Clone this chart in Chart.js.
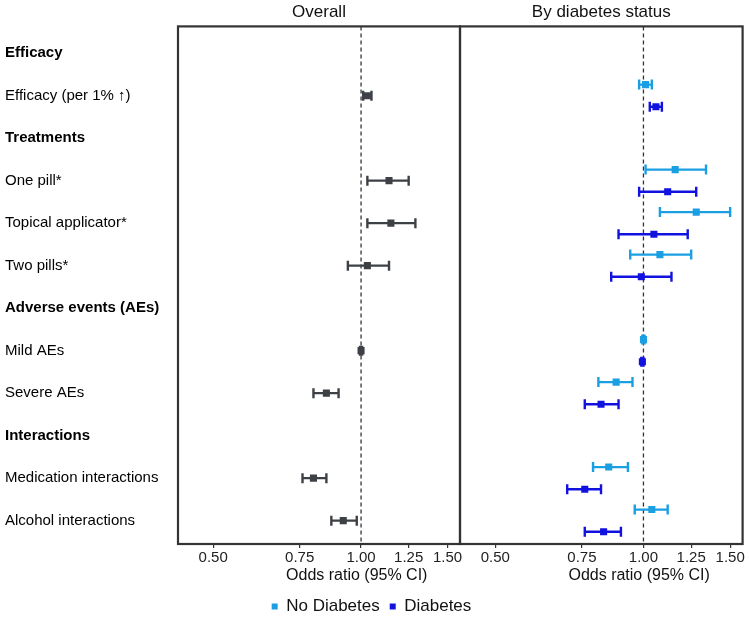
<!DOCTYPE html>
<html>
<head>
<meta charset="utf-8">
<script src="https://cdn.jsdelivr.net/npm/chart.js@4.4.1/dist/chart.umd.min.js"></script>
<style>
  html, body { margin: 0; padding: 0; background: #fff; }
  #wrap { position: relative; width: 750px; height: 625px; }
  #wrap canvas { position: absolute; left: 0; top: 0; }
</style>
</head>
<body>
<div id="wrap">
  <canvas id="overall" width="750" height="625"></canvas>
  <canvas id="byStatus" width="750" height="625"></canvas>
</div>
<script>
// rows, top to bottom
const rowLabels = [
  'Efficacy', 'Efficacy (per 1% \u2191)',
  'Treatments', 'One pill*', 'Topical applicator*', 'Two pills*',
  'Adverse events (AEs)', 'Mild AEs', 'Severe AEs',
  'Interactions', 'Medication interactions', 'Alcohol interactions'
];
const headerRows = [0, 2, 6, 9];
const itemRows = [1, 3, 4, 5, 7, 8, 10, 11];

const xTicks = [0.5, 0.75, 1.0, 1.25, 1.5];
const xTitleText = 'Odds ratio (95% CI)';

// odds ratios and 95% CI, one value per item row
const overallOR = [1.03, 1.14, 1.15, 1.03, 1.00, 0.85, 0.80, 0.92];
const overallLo = [1.01, 1.03, 1.03, 0.94, 0.995, 0.80, 0.76, 0.87];
const overallHi = [1.05, 1.25, 1.29, 1.14, 1.005, 0.90, 0.85, 0.98];

const noDiabOR = [1.01, 1.16, 1.28, 1.08, 1.00, 0.88, 0.85, 1.04];
const noDiabLo = [0.98, 1.01, 1.08, 0.94, 0.995, 0.81, 0.79, 0.96];
const noDiabHi = [1.04, 1.34, 1.50, 1.25, 1.005, 0.95, 0.93, 1.12];

const diabOR = [1.06, 1.12, 1.05, 0.99, 0.995, 0.82, 0.76, 0.83];
const diabLo = [1.03, 0.98, 0.89, 0.86, 0.99, 0.76, 0.70, 0.76];
const diabHi = [1.09, 1.28, 1.23, 1.14, 1.00, 0.89, 0.82, 0.90];

const FONT = '"Liberation Sans", Arial, sans-serif';
const GREY = '#3d4146';
const LIGHT_BLUE = '#1a9fe3';
const BLUE = '#1212e0';
const X_MIN = 0.424, X_MAX = 1.59;
const Y_MIN = -0.63, Y_MAX = 11.55;
const SHIFT = 0.26; // vertical dodge for the two subgroups

function estPoints(or, shift) {
  return itemRows.map((r, i) => ({ x: or[i], y: r + shift }));
}
function ciPoints(lo, hi, shift) {
  return itemRows.flatMap((r, i) => [
    { x: lo[i], y: r + shift }, { x: hi[i], y: r + shift }, { x: null, y: null }
  ]);
}
function estSet(label, data, color) {
  return {
    type: 'scatter', label, data, xAxisID: 'x',
    pointStyle: 'rect', pointRadius: 5, borderWidth: 0,
    backgroundColor: color, borderColor: color, order: 0
  };
}
function ciSet(data, color) {
  return {
    type: 'line', label: '', data, xAxisID: 'x',
    borderColor: color, backgroundColor: color, borderWidth: 2.4,
    pointStyle: 'line', rotation: 90, pointRadius: 5,
    pointBorderWidth: 2.4, pointBorderColor: color, spanGaps: false, order: 1
  };
}
function refLine() {
  return {
    type: 'line', label: '', xAxisID: 'x',
    data: [{ x: 1, y: Y_MIN }, { x: 1, y: Y_MAX }],
    borderColor: '#333', borderWidth: 1.3, borderDash: [4, 3], pointRadius: 0, order: 2
  };
}

const panelBox = {
  id: 'panelBox',
  afterDraw(chart) {
    const { ctx, chartArea: a } = chart;
    ctx.save();
    ctx.strokeStyle = '#333';
    ctx.lineWidth = 2.2;
    ctx.strokeRect(a.left, a.top, a.right - a.left, a.bottom - a.top);
    ctx.restore();
  }
};

function xScales() {
  return {
    x: {
      type: 'logarithmic', position: 'bottom', min: X_MIN, max: X_MAX,
      afterBuildTicks: s => { s.ticks = xTicks.map(v => ({ value: v })); },
      afterFit: s => { s.height = 22; },
      ticks: {
        autoSkip: false, maxRotation: 0, padding: 1, color: '#222',
        font: { family: FONT, size: 15 },
        callback: v => Number(v).toFixed(2)
      },
      grid: { drawOnChartArea: false, drawTicks: true, tickLength: 4, color: '#333', lineWidth: 1.2 },
      border: { display: false }
    },
    // second bottom axis only carries the axis title, centred near 1.00 as in the source figure
    xTitle: {
      type: 'logarithmic', position: 'bottom', min: X_MIN, max: X_MAX,
      afterBuildTicks: s => { s.ticks = [{ value: 0.98 }]; },
      afterFit: s => { s.height = 22; },
      ticks: {
        autoSkip: false, maxRotation: 0, padding: 0, color: '#111',
        font: { family: FONT, size: 16 },
        callback: () => xTitleText
      },
      grid: { display: false, drawTicks: false },
      border: { display: false }
    }
  };
}

function titleOpts(text) {
  return {
    display: true, text, fullSize: false, color: '#111',
    font: { family: FONT, size: 17, weight: 'normal' },
    padding: { top: 2, bottom: 4 }
  };
}

// right panel first, its legend height is needed to line up the left one
const rightChart = new Chart(document.getElementById('byStatus'), {
  type: 'scatter',
  data: {
    datasets: [
      estSet('No Diabetes', estPoints(noDiabOR, -SHIFT), LIGHT_BLUE),
      estSet('Diabetes', estPoints(diabOR, SHIFT), BLUE),
      ciSet(ciPoints(noDiabLo, noDiabHi, -SHIFT), LIGHT_BLUE),
      ciSet(ciPoints(diabLo, diabHi, SHIFT), BLUE),
      refLine()
    ]
  },
  options: {
    responsive: false, animation: false, events: [],
    layout: { padding: { right: 7 } },
    scales: Object.assign(xScales(), {
      y: {
        type: 'linear', min: Y_MIN, max: Y_MAX, reverse: true,
        afterFit: s => { s.width = 460; },
        ticks: { display: false },
        grid: { display: false },
        border: { display: false }
      }
    }),
    plugins: {
      title: titleOpts('By diabetes status'),
      tooltip: { enabled: false },
      legend: {
        display: true, position: 'bottom',
        labels: {
          usePointStyle: true, boxWidth: 6, boxHeight: 6, padding: 10,
          color: '#111', font: { family: FONT, size: 17 },
          filter: item => !!item.text
        }
      }
    }
  },
  plugins: [panelBox]
});

const legendH = rightChart.legend ? rightChart.legend.height : 36;

new Chart(document.getElementById('overall'), {
  type: 'scatter',
  data: {
    datasets: [
      estSet('Overall', estPoints(overallOR, 0), GREY),
      ciSet(ciPoints(overallLo, overallHi, 0), GREY),
      refLine()
    ]
  },
  options: {
    responsive: false, animation: false, events: [],
    layout: { padding: { left: 5, right: 290, bottom: legendH } },
    scales: Object.assign(xScales(), {
      y: {
        type: 'linear', min: Y_MIN, max: Y_MAX, reverse: true,
        afterBuildTicks: s => { s.ticks = rowLabels.map((_, i) => ({ value: i })); },
        afterFit: s => { s.width = 173; },
        ticks: {
          autoSkip: false, crossAlign: 'far', color: '#000',
          font: ctx => ({ family: FONT, size: 15, weight: headerRows.includes(ctx.index) ? 'bold' : 'normal' }),
          callback: (v, i) => rowLabels[i]
        },
        grid: { display: false },
        border: { display: false }
      }
    }),
    plugins: {
      title: titleOpts('Overall'),
      tooltip: { enabled: false },
      legend: { display: false }
    }
  },
  plugins: [panelBox]
});
</script>
</body>
</html>
